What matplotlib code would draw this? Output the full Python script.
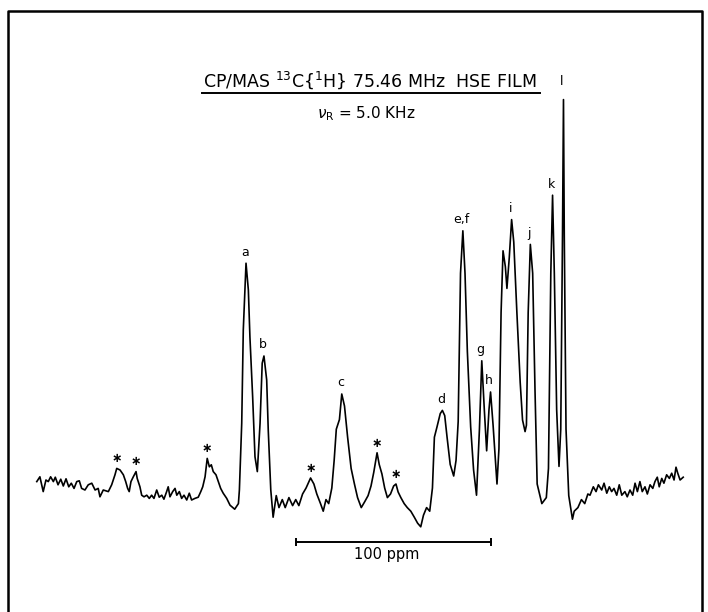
import matplotlib
matplotlib.use('Agg')
import matplotlib.pyplot as plt
from matplotlib.lines import Line2D
import numpy as np

# traced CP/MAS 13C spectrum: (ppm, intensity in arbitrary units)
baseline_left = [
    (283.7, 1.1), (282.1, 2.3), (280.4, -1.4), (279.0, 1.5), (277.8, 1.1),
    (276.6, 2.3), (275.2, 1.1), (274.2, 2.2), (272.8, 0.3), (271.4, 1.7),
    (270.1, 0.0), (268.7, 1.8), (267.3, -0.2), (266.0, 0.7), (264.6, -0.6),
    (263.2, 1.1), (261.9, 1.3), (260.7, -0.6), (259.0, -1.0), (257.3, 0.3),
    (255.5, 0.7), (253.8, -1.0), (252.2, -0.6), (251.3, -2.7), (249.6, -1.0),
    (247.0, -1.4), (245.3, 0.3), (243.6, 2.8), (242.7, 4.4), (241.0, 4.0),
    (239.3, 2.8), (238.1, 1.1), (237.1, -0.6), (236.3, -1.4), (235.4, 1.1),
    (234.2, 2.3), (232.8, 3.6), (232.2, 1.9), (230.8, -0.2), (229.9, -2.3),
    (228.7, -2.7), (227.3, -2.3), (226.0, -3.1), (224.8, -2.3), (223.6, -3.1),
    (222.2, -1.0), (220.9, -2.8), (219.6, -2.3), (218.5, -3.3), (217.1, -1.4),
    (216.3, -0.2), (215.4, -2.7), (214.0, -1.4), (212.8, -0.6), (211.9, -2.3),
    (210.6, -1.4), (209.4, -3.1), (208.2, -2.3), (206.8, -3.5), (205.5, -1.8),
    (204.3, -3.5), (202.6, -3.1), (200.9, -2.8), (199.6, -1.4), (198.6, -0.2),
    (197.4, 2.3), (196.3, 6.9), (195.2, 4.8), (194.2, 5.3), (193.2, 3.6),
    (191.8, 2.8), (190.6, 1.1), (189.4, -0.6), (188.1, -1.8), (186.3, -3.1),
    (184.6, -4.8), (182.2, -5.8), (180.3, -4.4),
]

peaks_ab = [
    (179.8, -1.0), (178.6, 15.7), (177.8, 39.0), (176.4, 55.7), (175.2, 49.0),
    (174.4, 37.3), (173.0, 22.3), (171.8, 7.3), (170.6, 3.6), (169.2, 15.7),
    (168.1, 30.7), (167.2, 32.5), (165.8, 26.5), (165.0, 14.0), (163.7, -1.0),
]

middle = [
    (162.5, -7.8), (160.9, -2.4), (159.5, -5.4), (157.8, -3.4), (156.3, -5.4),
    (154.4, -2.9), (152.5, -4.9), (150.9, -3.4), (149.3, -4.9), (147.4, -2.0),
    (145.6, -0.5), (143.3, 2.0), (141.6, 0.5), (140.1, -2.0), (138.2, -4.4),
    (136.8, -6.3), (135.4, -3.4), (134.0, -4.4), (132.4, -0.5), (131.2, 6.4),
    (130.1, 14.2), (128.5, 16.6), (127.3, 23.0), (125.9, 20.0), (124.3, 12.2),
    (122.5, 4.4), (120.8, 0.5), (119.2, -2.9), (117.3, -5.4), (115.5, -3.9),
    (113.8, -2.4), (112.3, 0.0), (110.9, 3.4), (109.2, 8.3), (108.1, 5.4),
    (106.7, 3.0), (105.3, -0.5), (103.9, -2.9), (102.3, -2.0), (100.7, 0.0),
    (99.5, 0.5), (98.4, -1.5), (97.0, -2.9), (95.3, -4.4), (93.7, -5.4),
    (91.9, -6.3), (90.1, -7.8), (88.4, -9.3), (86.8, -10.2), (85.4, -7.3),
    (83.8, -5.4), (82.2, -6.3), (80.8, -0.5),
]

peaks_d_to_l = [
    (79.8, 12.2), (78.5, 14.7), (76.8, 18.1), (75.7, 18.9), (74.5, 17.6),
    (73.3, 12.2), (71.7, 5.4), (69.9, 2.5), (68.7, 6.4), (67.6, 16.1),
    (66.4, 53.2), (65.2, 63.8), (64.1, 53.2), (62.9, 33.7), (61.2, 14.8),
    (59.7, 4.0), (58.2, -2.3), (56.7, 14.2), (55.5, 31.3), (54.2, 19.1),
    (53.0, 8.8), (51.8, 19.1), (51.0, 23.5), (49.7, 15.2), (47.7, 0.5),
    (46.7, 9.3), (45.6, 43.4), (44.6, 58.8), (43.4, 54.8), (42.6, 49.4),
    (41.4, 57.1), (40.2, 66.6), (39.1, 61.0), (37.5, 43.4), (35.8, 25.9),
    (34.6, 16.5), (33.3, 13.6), (32.6, 15.2), (31.7, 43.4), (30.6, 60.4),
    (29.4, 53.2), (28.2, 23.9), (27.1, 0.5), (24.7, -4.4), (22.4, -2.9),
    (21.3, 4.4), (20.1, 53.2), (19.2, 72.7), (18.3, 53.2), (17.1, 19.1),
    (15.9, 4.9), (15.0, 14.2), (14.1, 63.0), (13.6, 96.6), (13.2, 63.0),
    (12.3, 14.2), (10.9, -2.4),
]

baseline_right = [
    (9.0, -8.3), (8.1, -6.3), (6.2, -5.4), (4.4, -3.4), (2.7, -4.4),
    (1.1, -2.0), (0.0, -2.3), (-1.7, -0.2), (-3.1, -1.4), (-4.3, 0.3),
    (-6.0, -1.0), (-7.2, 0.7), (-8.6, -1.8), (-9.9, -0.2), (-11.1, -1.4),
    (-12.3, -0.6), (-13.7, -2.3), (-15.0, 0.3), (-16.3, -2.3), (-17.9, -1.4),
    (-19.1, -2.7), (-20.5, -1.0), (-21.9, -2.3), (-23.1, 0.7), (-24.3, -1.4),
    (-25.6, 1.1), (-26.8, -1.4), (-28.2, -0.2), (-29.4, -2.0), (-30.8, 0.3),
    (-32.2, -0.6), (-33.3, 1.1), (-34.5, 2.2), (-35.5, -0.2), (-36.8, 1.9),
    (-37.9, 0.7), (-39.3, 2.8), (-40.7, 1.9), (-41.9, 3.2), (-43.1, 1.5),
    (-44.1, 4.7), (-45.0, 3.2), (-46.2, 1.5), (-47.8, 2.2),
]

peak_names = ['a', 'b', 'c', 'd', 'e,f', 'g', 'h', 'i', 'j', 'k', 'l']
peak_ppm = [176.4, 167.2, 127.3, 75.7, 65.2, 55.5, 51.0, 40.2, 30.6, 19.2, 13.6]
peak_height = [55.7, 32.5, 23.0, 18.9, 63.8, 31.3, 23.5, 66.6, 60.4, 72.7, 96.6]

# spinning sidebands
sideband_ppm = [242.7, 232.8, 196.3, 143.3, 109.2, 99.5]
sideband_height = [4.4, 3.6, 6.9, 2.0, 8.3, 0.5]

scale_start = 150.8   # ppm
scale_length = 100    # ppm

trace = np.array(baseline_left + peaks_ab + middle + peaks_d_to_l + baseline_right)

fig = plt.figure(figsize=(7.08, 6.12), dpi=100)
ax = fig.add_axes([0, 0, 1, 1])
ax.plot(trace[:, 0], trace[:, 1], color='black', lw=1.2)
ax.set_xlim(302.56, -60.51)
ax.set_ylim(-31.5, 121.5)
ax.axis('off')

for name, p, h in zip(peak_names, peak_ppm, peak_height):
    dy = 13 if name == 'l' else 8
    ax.annotate(name, (p, h), xytext=(-1, dy), textcoords='offset points',
                ha='center', va='center', fontsize=9)

for p, h in zip(sideband_ppm, sideband_height):
    ax.annotate('\u2217', (p, h), xytext=(0, 7), textcoords='offset points',
                ha='center', va='center', fontsize=9, fontweight='bold')

# 100 ppm scale bar
bar_y = -14.1
ax.plot([scale_start, scale_start - scale_length], [bar_y, bar_y],
        color='black', lw=1.4, marker='|', markersize=6, markeredgewidth=1.4)
ax.annotate('100 ppm', (scale_start - scale_length / 2 + 3.5, bar_y),
            xytext=(0, -9), textcoords='offset points',
            ha='center', va='center', fontsize=10.5)

# title lines
fig.text(0.522, 0.858, 'CP/MAS $^{13}$C{$^{1}$H} 75.46 MHz  HSE FILM',
         ha='center', va='baseline', fontsize=12.5)
fig.add_artist(Line2D([202 / 708, 540 / 708], [1 - 92.8 / 612] * 2,
                      transform=fig.transFigure, color='black', lw=1.4))
fig.text(0.517, 1 - 118.3 / 612, r'$\nu_{\mathrm{R}}$ = 5.0 KHz',
         ha='center', va='baseline', fontsize=11)

# page frame (open at the bottom)
fig.add_artist(Line2D([8 / 708, 8 / 708, 702 / 708, 702 / 708],
                      [0, 1 - 11 / 612, 1 - 11 / 612, 0],
                      transform=fig.transFigure, color='black', lw=1.8))

fig.savefig('out.png', dpi=100)
